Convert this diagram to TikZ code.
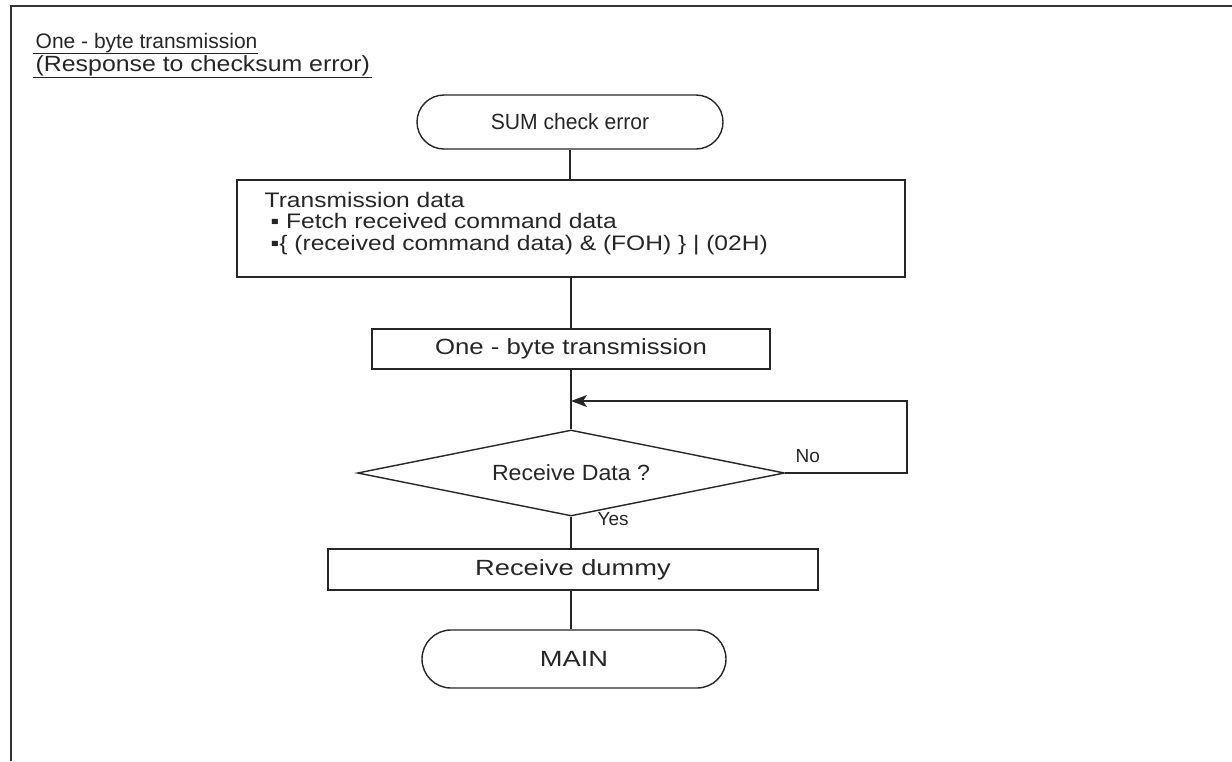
\documentclass[tikz,border=0pt]{standalone}
\usepackage{fontspec}
\setmainfont{Liberation Sans}
\usetikzlibrary{shapes.geometric,shapes.misc,arrows.meta}
\newcommand{\hstr}[2][1.12]{\scalebox{#1}[1]{#2}}
\begin{document}
\begin{tikzpicture}[x=1pt,y=-1pt,
  line width=1.4pt, draw=black!85,
  txt/.style={font=\fontsize{22}{25}\selectfont, text=black!85},
  term/.style={txt, draw, rounded rectangle, minimum width=306pt, minimum height=54pt, inner sep=0pt},
  procbox/.style={txt, draw, rectangle, minimum height=40pt, inner sep=0pt},
  decide/.style={txt, draw, diamond, aspect=4.97, minimum width=427pt, minimum height=86pt, inner sep=0pt},
  lbl/.style={font=\fontsize{19}{21}\selectfont, text=black!85},
  line/.style={anchor=base west, inner sep=0pt, txt},
  boxline/.style={anchor=base west, inner sep=0pt, font=\fontsize{21}{24}\selectfont, text=black!85},
  flow/.style={draw=black!85, line width=1.4pt},
  arr/.style={flow, -{Stealth[length=16pt,width=12pt,inset=4pt]}}
]
\useasboundingbox (0,0) rectangle (1232,761);
% frame
\draw[line width=2.5pt, draw=black!80] (11,761) -- (11,6) -- (1232,6);
% titles
\node[line, font=\fontsize{21}{24}\selectfont] (t1) at (35,48) {One - byte transmission};
\draw[line width=1.4pt] (33,53.5) -- (258,53.5);
\node[line] (t2) at (35,71) {\hstr[1.13]{(Response to checksum error)}};
\draw[line width=1.4pt] (33,77.5) -- (372,77.5);
% nodes
\node[term] (sum) at (570,122) {\hstr[0.96]{SUM check error}};
\node[draw, rectangle, minimum width=668pt, minimum height=97pt, inner sep=0pt] (td) at (571,228.5) {};
\node[boxline] (l1) at (264,207) {\hstr[1.17]{Transmission data}};
\node[boxline] (l2) at (270,228.5) {\hstr[1.17]{▪ Fetch received command data}};
\node[boxline] (l3) at (270,250) {\hstr[1.17]{▪\{ (received command data) \& (FOH) \} | (02H)}};
\node[procbox, minimum width=398pt] (ob) at (571,349) {\hstr[1.17]{One - byte transmission}};
\node[decide] (rd) at (571,473) {\hstr[1.05]{Receive Data ?}};
\node[procbox, minimum width=490pt, minimum height=41pt] (dm) at (573,569.5) {\hstr[1.24]{Receive dummy}};
\node[term, minimum width=304pt, minimum height=58pt] (mn) at (574,659) {\hstr[1.24]{MAIN}};
% connectors
\coordinate (loopin) at (571,401);
\coordinate (loopr) at (907,473);
\draw[flow] (sum.south) -- (sum.south |- td.north);
\draw[flow] (td.south -| ob.north) -- (ob.north);
\draw[flow] (ob.south) -- (rd.north);
\draw[arr] (rd.east) -- (loopr) |- (loopin);
\draw[flow] (rd.south) -- (rd.south |- dm.north);
\draw[flow] (dm.south -| rd.south) -- (mn.north -| rd.south);
% labels
\node[lbl, anchor=south west, inner sep=0pt] (no) at (795,463) {No};
\node[lbl, anchor=north west, inner sep=0pt] (yes) at (597,512) {Yes};
\end{tikzpicture}
\end{document}
